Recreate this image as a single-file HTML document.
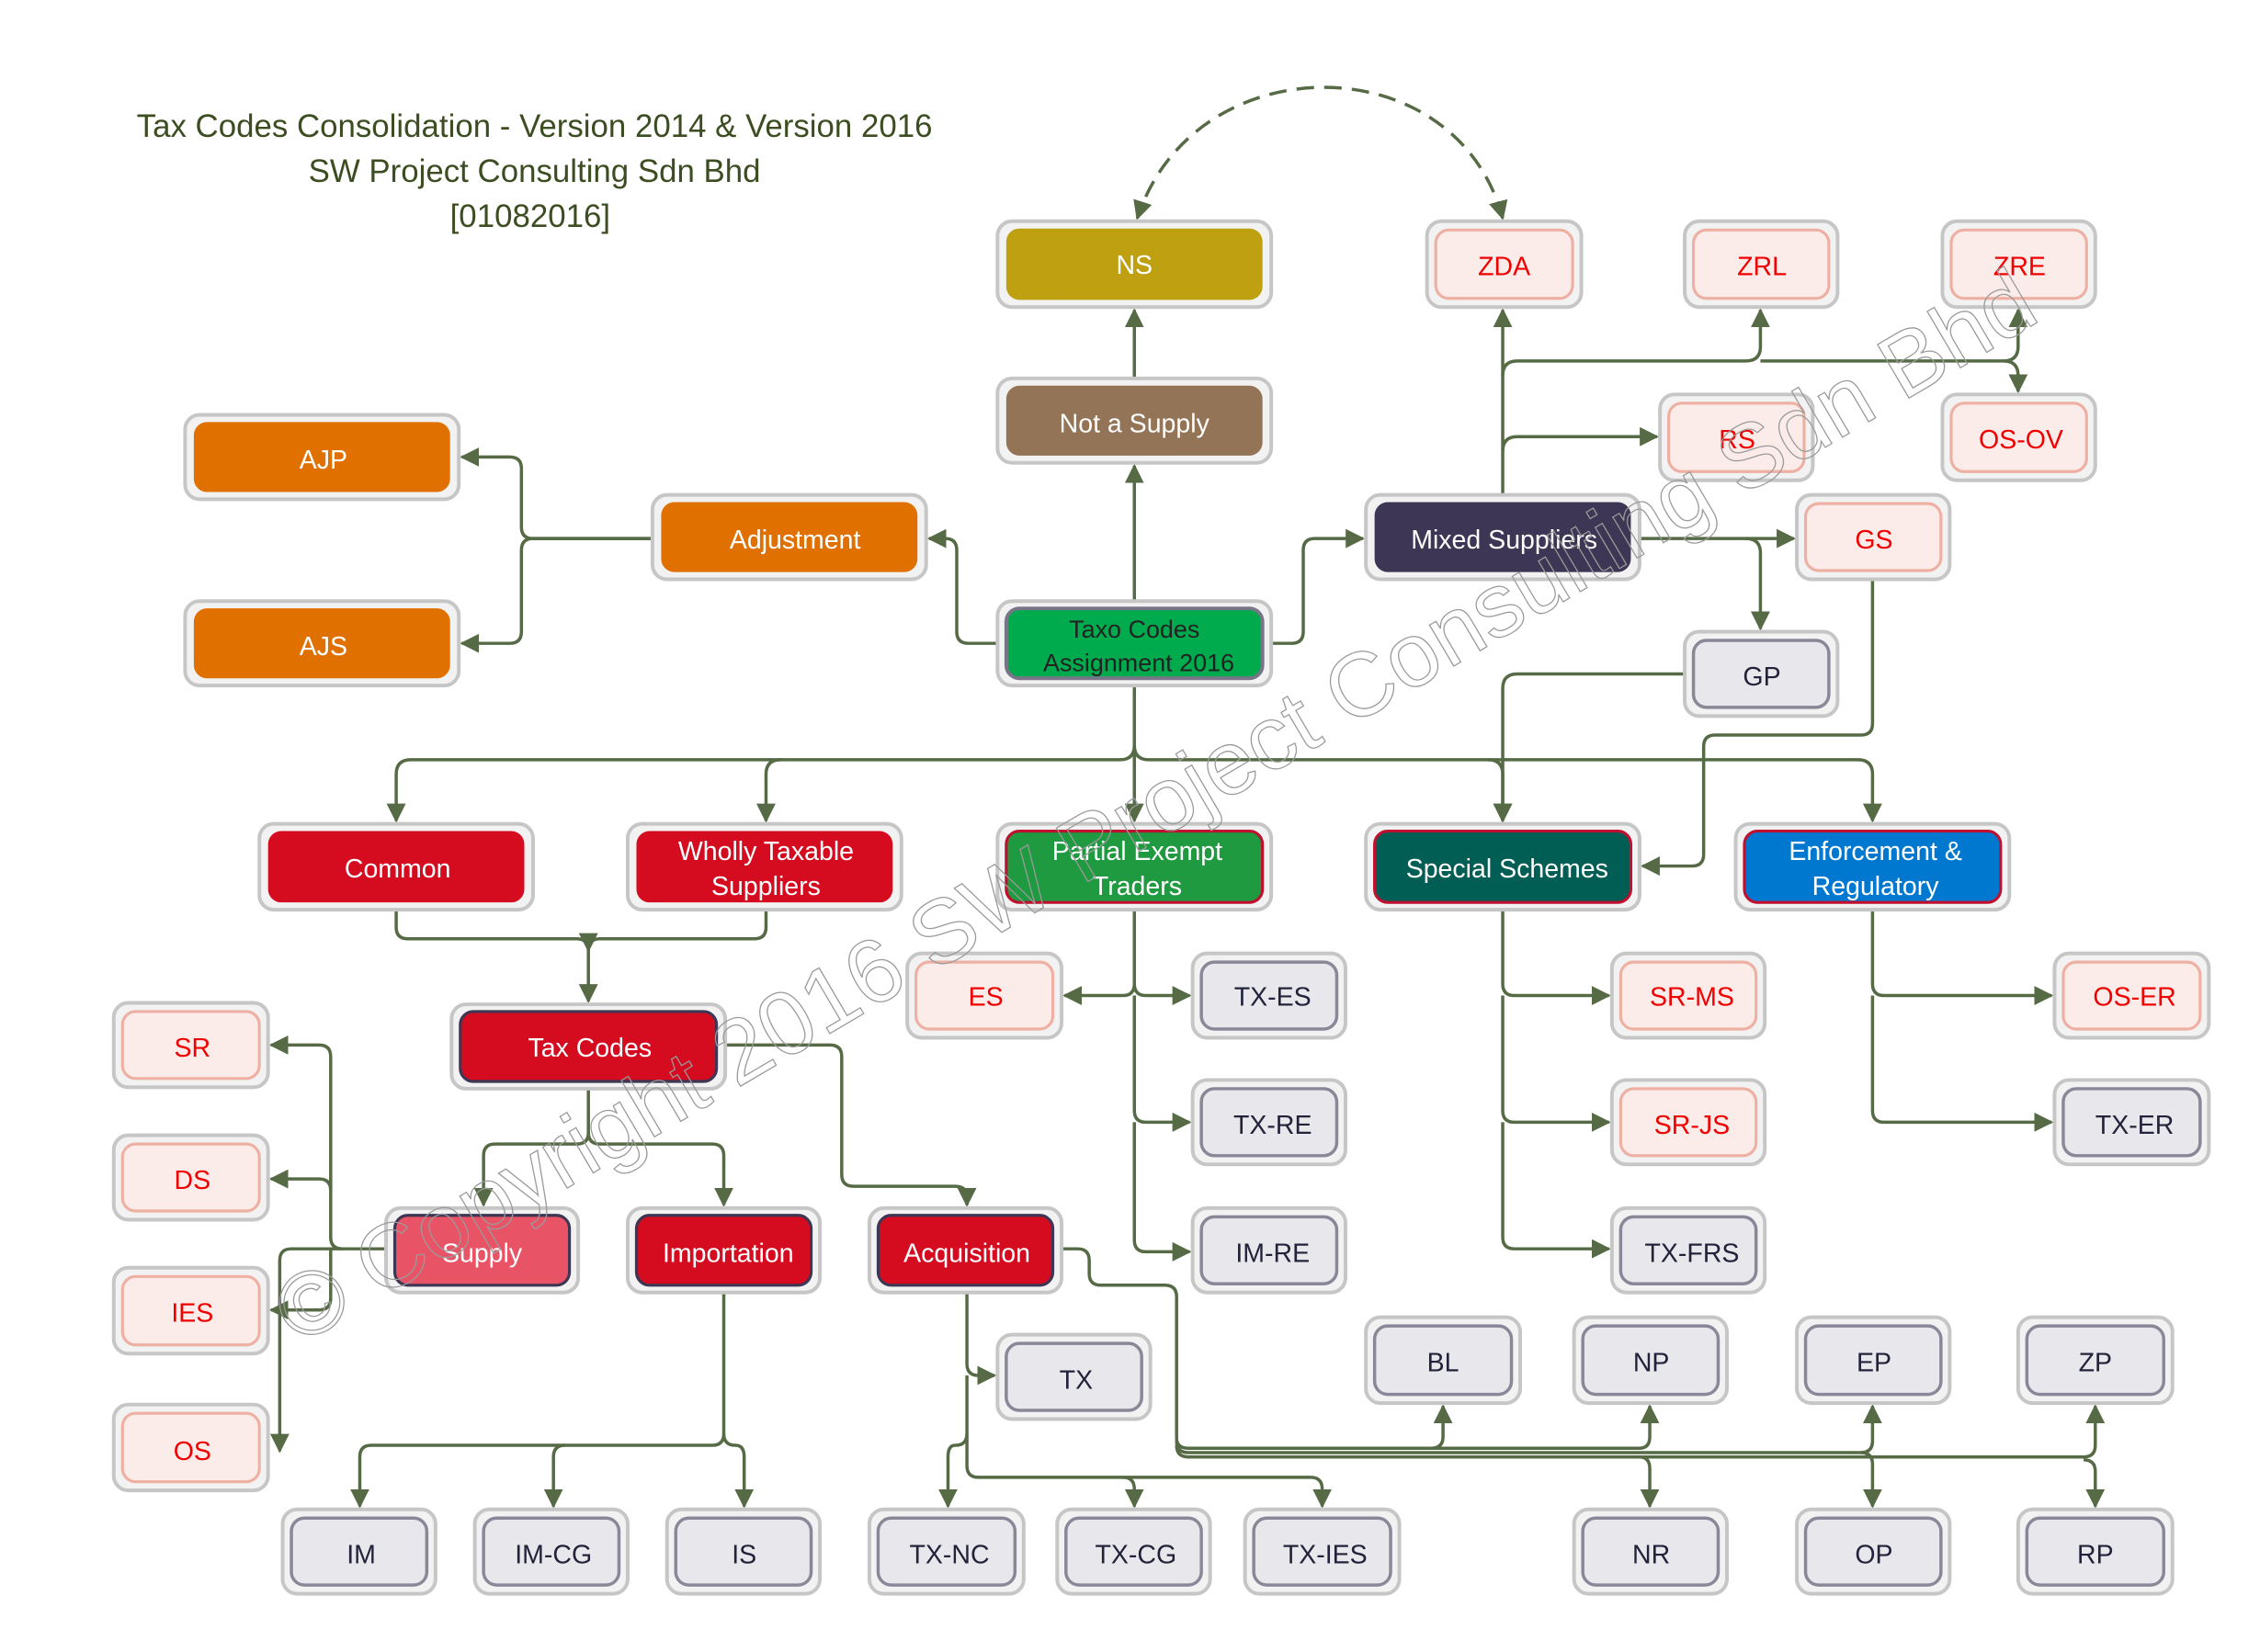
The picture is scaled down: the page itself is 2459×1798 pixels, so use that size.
<!DOCTYPE html>
<html><head><meta charset="utf-8"><style>
html,body{margin:0;padding:0;background:#fff;}
svg{display:block}
text{font-family:"Liberation Sans",sans-serif;}
.o{fill:#f2f2f2;stroke:#c6c6c6;stroke-width:2.5}
.pk{fill:#fbece9;stroke:#eeb0a2;stroke-width:2}
.gy{fill:#e8e8ec;stroke:#8a8898;stroke-width:2.2}
.tp{fill:#f00000;font-size:18px}
.tg{fill:#22223a;font-size:18px}
.tw{fill:#fff;font-size:18px}
.c{fill:none;stroke:#566b45;stroke-width:2.2}
</style></head><body>
<svg width="2459" height="1798" viewBox="0 0 1552 1135" xmlns="http://www.w3.org/2000/svg">
<defs><marker id="a" viewBox="0 0 10 10" refX="9" refY="5" markerWidth="6" markerHeight="6" orient="auto-start-reverse" markerUnits="strokeWidth"><path d="M0,0L10,5L0,10z" fill="#566b45"/></marker></defs>

<g fill="#3d4d22" font-size="22" text-anchor="middle">
<text x="367" y="94">Tax Codes Consolidation - Version 2014 &amp; Version 2016</text>
<text x="367" y="125">SW Project Consulting Sdn Bhd</text>
<text x="364" y="156">[01082016]</text>
</g>

<!-- connectors -->
<g class="c" marker-end="url(#a)">
<path d="M779,413V320"/>
<path d="M779,260V213"/>
<path d="M1032,150C1000,30 820,30 781,150" stroke-dasharray="12,7" marker-start="url(#a)"/>
<path d="M685,442H665Q657,442 657,434V378Q657,370 649,370H638"/>
<path d="M448,370H366Q358,370 358,362V322Q358,314 350,314H317"/>
<path d="M448,370H366Q358,370 358,378V434Q358,442 350,442H317"/>
<path d="M873,442H887Q895,442 895,434V378Q895,370 903,370H936"/>
<path d="M1032,340V213"/>
<path d="M1032,258Q1032,248 1042,248H1199Q1209,248 1209,238V213"/>
<path d="M1209,248H1376Q1386,248 1386,238V213"/>
<path d="M1376,248Q1386,248 1386,258V269"/>
<path d="M1032,310Q1032,300 1042,300H1138"/>
<path d="M1126,370H1232"/>
<path d="M1199,370Q1209,370 1209,380V432"/>
<path d="M1157,463H1042Q1032,463 1032,473V564"/>
<path d="M1286,398V497Q1286,505 1278,505H1178Q1170,505 1170,513V587Q1170,595 1162,595H1128"/>
<path d="M779,471V512Q779,522 769,522H282Q272,522 272,532V564"/>
<path d="M536,522Q526,522 526,532V564"/>
<path d="M779,512V564"/>
<path d="M779,512Q779,522 789,522H1276Q1286,522 1286,532V564"/>
<path d="M1022,522Q1032,522 1032,532V564"/>
<path d="M272,625V637Q272,645 280,645H396Q404,645 404,653V688"/>
<path d="M526,625V637Q526,645 518,645H412Q404,645 404,653"/>
<path d="M779,625V676Q779,684 787,684H817"/>
<path d="M779,676Q779,684 771,684H731"/>
<path d="M779,684V763Q779,771 787,771H817"/>
<path d="M779,771V852Q779,860 787,860H817"/>
<path d="M1032,625V676Q1032,684 1040,684H1105"/>
<path d="M1032,684V763Q1032,771 1040,771H1105"/>
<path d="M1032,771V850Q1032,858 1040,858H1105"/>
<path d="M1286,625V676Q1286,684 1294,684H1409"/>
<path d="M1286,684V763Q1286,771 1294,771H1409"/>
<path d="M404,748V778Q404,786 396,786H340Q332,786 332,794V828"/>
<path d="M404,778Q404,786 412,786H489Q497,786 497,794V828"/>
<path d="M498,718H570Q578,718 578,726V807Q578,815 586,815H656Q664,815 664,823V828"/>
<path d="M265,858H235Q227,858 227,850V726Q227,718 219,718H186"/>
<path d="M227,810V818Q227,810 219,810H186"/>
<path d="M227,858V892Q227,900 219,900H186"/>
<path d="M235,858H200Q192,858 192,866V997"/>
<path d="M497,888V985Q497,993 489,993H255Q247,993 247,1001V1035"/>
<path d="M388,993Q380,993 380,1001V1035"/>
<path d="M497,985Q497,993 505,993Q511,993 511,1001V1035"/>
<path d="M664,888V937Q664,945 672,945H683"/>
<path d="M664,985Q664,993 656,993Q651,993 651,1001V1035"/>
<path d="M664,945V1007Q664,1015 672,1015H900Q908,1015 908,1023V1035"/>
<path d="M771,1015Q779,1015 779,1023V1035"/>
<path d="M729,858H740Q748,858 748,866V875Q748,883 756,883H800Q808,883 808,891V988Q808,995 816,995H983Q991,995 991,987V966"/>
<path d="M983,995H1126Q1133,995 1133,987V966"/>
<path d="M808,990Q808,998 816,998H1278Q1286,998 1286,990V966"/>
<path d="M808,993Q808,1001 816,1001H1431Q1439,1001 1439,993V966"/>
<path d="M1126,1001Q1133,1001 1133,1009V1035"/>
<path d="M1278,998Q1286,998 1286,1006V1035"/>
<path d="M1431,1003Q1439,1003 1439,1011V1035"/>
</g>

<!-- nodes -->
<g>
<!-- colored -->
<rect class="o" x="685" y="152" width="188" height="59" rx="10"/><rect x="691" y="157" width="176" height="49" rx="9" fill="#bea010"/><text class="tw" x="779" y="188" text-anchor="middle">NS</text>
<rect class="o" x="685" y="260" width="188" height="58" rx="10"/><rect x="691" y="265" width="176" height="48" rx="9" fill="#937456"/><text class="tw" x="779" y="297" text-anchor="middle">Not a Supply</text>
<rect class="o" x="685" y="413" width="188" height="58" rx="10"/><rect x="691" y="418" width="176" height="48" rx="9" fill="#00ab4e" stroke="#7a7488" stroke-width="2.5"/><text x="779" y="438" text-anchor="middle" fill="#222" font-size="17">Taxo Codes</text><text x="782" y="461" text-anchor="middle" fill="#222" font-size="17">Assignment 2016</text>
<rect class="o" x="448" y="340" width="188" height="58" rx="10"/><rect x="454" y="345" width="176" height="48" rx="9" fill="#e07000"/><text class="tw" x="546" y="377" text-anchor="middle">Adjustment</text>
<rect class="o" x="127" y="285" width="188" height="58" rx="10"/><rect x="133" y="290" width="176" height="48" rx="9" fill="#e07000"/><text class="tw" x="222" y="322" text-anchor="middle">AJP</text>
<rect class="o" x="127" y="413" width="188" height="58" rx="10"/><rect x="133" y="418" width="176" height="48" rx="9" fill="#e07000"/><text class="tw" x="222" y="450" text-anchor="middle">AJS</text>
<rect class="o" x="938" y="340" width="188" height="58" rx="10"/><rect x="944" y="345" width="176" height="48" rx="9" fill="#3d3654"/><text class="tw" x="1033" y="377" text-anchor="middle">Mixed Suppliers</text>
<rect class="o" x="178" y="566" width="188" height="59" rx="10"/><rect x="184" y="571" width="176" height="49" rx="9" fill="#d50c20"/><text class="tw" x="273" y="603" text-anchor="middle">Common</text>
<rect class="o" x="431" y="566" width="188" height="59" rx="10"/><rect x="437" y="571" width="176" height="49" rx="9" fill="#d50c20"/><text class="tw" x="526" y="591" text-anchor="middle">Wholly Taxable</text><text class="tw" x="526" y="615" text-anchor="middle">Suppliers</text>
<rect class="o" x="685" y="566" width="188" height="59" rx="10"/><rect x="691" y="571" width="176" height="49" rx="9" fill="#1f9a40" stroke="#c01030" stroke-width="2"/><text class="tw" x="781" y="591" text-anchor="middle">Partial Exempt</text><text class="tw" x="781" y="615" text-anchor="middle">Traders</text>
<rect class="o" x="938" y="566" width="188" height="59" rx="10"/><rect x="944" y="571" width="176" height="49" rx="9" fill="#005e55" stroke="#c01030" stroke-width="2"/><text class="tw" x="1035" y="603" text-anchor="middle">Special Schemes</text>
<rect class="o" x="1192" y="566" width="188" height="59" rx="10"/><rect x="1198" y="571" width="176" height="49" rx="9" fill="#0078d0" stroke="#c01030" stroke-width="2"/><text class="tw" x="1288" y="591" text-anchor="middle">Enforcement &amp;</text><text class="tw" x="1288" y="615" text-anchor="middle">Regulatory</text>
<rect class="o" x="310" y="690" width="188" height="58" rx="10"/><rect x="316" y="695" width="176" height="48" rx="9" fill="#d50c20" stroke="#3d3654" stroke-width="2"/><text class="tw" x="405" y="726" text-anchor="middle">Tax Codes</text>
<rect class="o" x="265" y="830" width="132" height="58" rx="10"/><rect x="271" y="835" width="120" height="48" rx="9" fill="#e85466" stroke="#3d3654" stroke-width="2"/><text class="tw" x="331" y="867" text-anchor="middle">Supply</text>
<rect class="o" x="431" y="830" width="132" height="58" rx="10"/><rect x="437" y="835" width="120" height="48" rx="9" fill="#d50c20" stroke="#3d3654" stroke-width="2"/><text class="tw" x="500" y="867" text-anchor="middle">Importation</text>
<rect class="o" x="597" y="830" width="132" height="58" rx="10"/><rect x="603" y="835" width="120" height="48" rx="9" fill="#d50c20" stroke="#3d3654" stroke-width="2"/><text class="tw" x="664" y="867" text-anchor="middle">Acquisition</text>
</g>
<g text-anchor="middle">
<!-- pink -->
<rect class="o" x="980" y="152" width="106" height="59" rx="10"/><rect class="pk" x="986" y="158" width="94" height="47" rx="9"/><text class="tp" x="1033" y="189">ZDA</text>
<rect class="o" x="1157" y="152" width="105" height="59" rx="10"/><rect class="pk" x="1163" y="158" width="93" height="47" rx="9"/><text class="tp" x="1210" y="189">ZRL</text>
<rect class="o" x="1334" y="152" width="105" height="59" rx="10"/><rect class="pk" x="1340" y="158" width="93" height="47" rx="9"/><text class="tp" x="1387" y="189">ZRE</text>
<rect class="o" x="1140" y="271" width="105" height="59" rx="10"/><rect class="pk" x="1146" y="277" width="93" height="47" rx="9"/><text class="tp" x="1193" y="308">RS</text>
<rect class="o" x="1334" y="271" width="105" height="59" rx="10"/><rect class="pk" x="1340" y="277" width="93" height="47" rx="9"/><text class="tp" x="1388" y="308">OS-OV</text>
<rect class="o" x="1234" y="340" width="105" height="58" rx="10"/><rect class="pk" x="1240" y="346" width="93" height="46" rx="9"/><text class="tp" x="1287" y="377">GS</text>
<rect class="o" x="623" y="655" width="106" height="58" rx="10"/><rect class="pk" x="629" y="661" width="94" height="46" rx="9"/><text class="tp" x="677" y="691">ES</text>
<rect class="o" x="1107" y="655" width="105" height="58" rx="10"/><rect class="pk" x="1113" y="661" width="93" height="46" rx="9"/><text class="tp" x="1162" y="691">SR-MS</text>
<rect class="o" x="1107" y="742" width="105" height="58" rx="10"/><rect class="pk" x="1113" y="748" width="93" height="46" rx="9"/><text class="tp" x="1162" y="779">SR-JS</text>
<rect class="o" x="1411" y="655" width="106" height="58" rx="10"/><rect class="pk" x="1417" y="661" width="94" height="46" rx="9"/><text class="tp" x="1466" y="691">OS-ER</text>
<rect class="o" x="78" y="689" width="106" height="58" rx="10"/><rect class="pk" x="84" y="695" width="94" height="46" rx="9"/><text class="tp" x="132" y="726">SR</text>
<rect class="o" x="78" y="780" width="106" height="58" rx="10"/><rect class="pk" x="84" y="786" width="94" height="46" rx="9"/><text class="tp" x="132" y="817">DS</text>
<rect class="o" x="78" y="871" width="106" height="59" rx="10"/><rect class="pk" x="84" y="877" width="94" height="47" rx="9"/><text class="tp" x="132" y="908">IES</text>
<rect class="o" x="78" y="965" width="106" height="59" rx="10"/><rect class="pk" x="84" y="971" width="94" height="47" rx="9"/><text class="tp" x="132" y="1003">OS</text>
<!-- gray -->
<rect class="o" x="1157" y="434" width="105" height="58" rx="10"/><rect class="gy" x="1163" y="440" width="93" height="46" rx="9"/><text class="tg" x="1210" y="471">GP</text>
<rect class="o" x="819" y="655" width="105" height="58" rx="10"/><rect class="gy" x="825" y="661" width="93" height="46" rx="9"/><text class="tg" x="874" y="691">TX-ES</text>
<rect class="o" x="819" y="742" width="105" height="58" rx="10"/><rect class="gy" x="825" y="748" width="93" height="46" rx="9"/><text class="tg" x="874" y="779">TX-RE</text>
<rect class="o" x="819" y="830" width="105" height="58" rx="10"/><rect class="gy" x="825" y="836" width="93" height="46" rx="9"/><text class="tg" x="874" y="867">IM-RE</text>
<rect class="o" x="1107" y="830" width="105" height="58" rx="10"/><rect class="gy" x="1113" y="836" width="93" height="46" rx="9"/><text class="tg" x="1162" y="867">TX-FRS</text>
<rect class="o" x="1411" y="742" width="106" height="58" rx="10"/><rect class="gy" x="1417" y="748" width="94" height="46" rx="9"/><text class="tg" x="1466" y="779">TX-ER</text>
<rect class="o" x="685" y="917" width="105" height="58" rx="10"/><rect class="gy" x="691" y="923" width="93" height="46" rx="9"/><text class="tg" x="739" y="954">TX</text>
<rect class="o" x="938" y="905" width="106" height="59" rx="10"/><rect class="gy" x="944" y="911" width="94" height="47" rx="9"/><text class="tg" x="991" y="942">BL</text>
<rect class="o" x="1081" y="905" width="105" height="59" rx="10"/><rect class="gy" x="1087" y="911" width="93" height="47" rx="9"/><text class="tg" x="1134" y="942">NP</text>
<rect class="o" x="1234" y="905" width="105" height="59" rx="10"/><rect class="gy" x="1240" y="911" width="93" height="47" rx="9"/><text class="tg" x="1287" y="942">EP</text>
<rect class="o" x="1386" y="905" width="106" height="59" rx="10"/><rect class="gy" x="1392" y="911" width="94" height="47" rx="9"/><text class="tg" x="1439" y="942">ZP</text>
<rect class="o" x="194" y="1037" width="105" height="58" rx="10"/><rect class="gy" x="200" y="1043" width="93" height="46" rx="9"/><text class="tg" x="248" y="1074">IM</text>
<rect class="o" x="326" y="1037" width="105" height="58" rx="10"/><rect class="gy" x="332" y="1043" width="93" height="46" rx="9"/><text class="tg" x="380" y="1074">IM-CG</text>
<rect class="o" x="458" y="1037" width="105" height="58" rx="10"/><rect class="gy" x="464" y="1043" width="93" height="46" rx="9"/><text class="tg" x="511" y="1074">IS</text>
<rect class="o" x="597" y="1037" width="106" height="58" rx="10"/><rect class="gy" x="603" y="1043" width="94" height="46" rx="9"/><text class="tg" x="652" y="1074">TX-NC</text>
<rect class="o" x="726" y="1037" width="105" height="58" rx="10"/><rect class="gy" x="732" y="1043" width="93" height="46" rx="9"/><text class="tg" x="780" y="1074">TX-CG</text>
<rect class="o" x="855" y="1037" width="106" height="58" rx="10"/><rect class="gy" x="861" y="1043" width="94" height="46" rx="9"/><text class="tg" x="910" y="1074">TX-IES</text>
<rect class="o" x="1081" y="1037" width="105" height="58" rx="10"/><rect class="gy" x="1087" y="1043" width="93" height="46" rx="9"/><text class="tg" x="1134" y="1074">NR</text>
<rect class="o" x="1234" y="1037" width="105" height="58" rx="10"/><rect class="gy" x="1240" y="1043" width="93" height="46" rx="9"/><text class="tg" x="1287" y="1074">OP</text>
<rect class="o" x="1386" y="1037" width="106" height="58" rx="10"/><rect class="gy" x="1392" y="1043" width="94" height="46" rx="9"/><text class="tg" x="1439" y="1074">RP</text>
</g>

<!-- watermark -->
<text x="0" y="0" transform="translate(205,925) rotate(-30.5)" font-size="62" fill="none" stroke="#9a9a9a" stroke-width="0.8" textLength="1390" lengthAdjust="spacingAndGlyphs">© Copyright 2016 SW Project Consulting Sdn Bhd</text>
</svg>
</body></html>
